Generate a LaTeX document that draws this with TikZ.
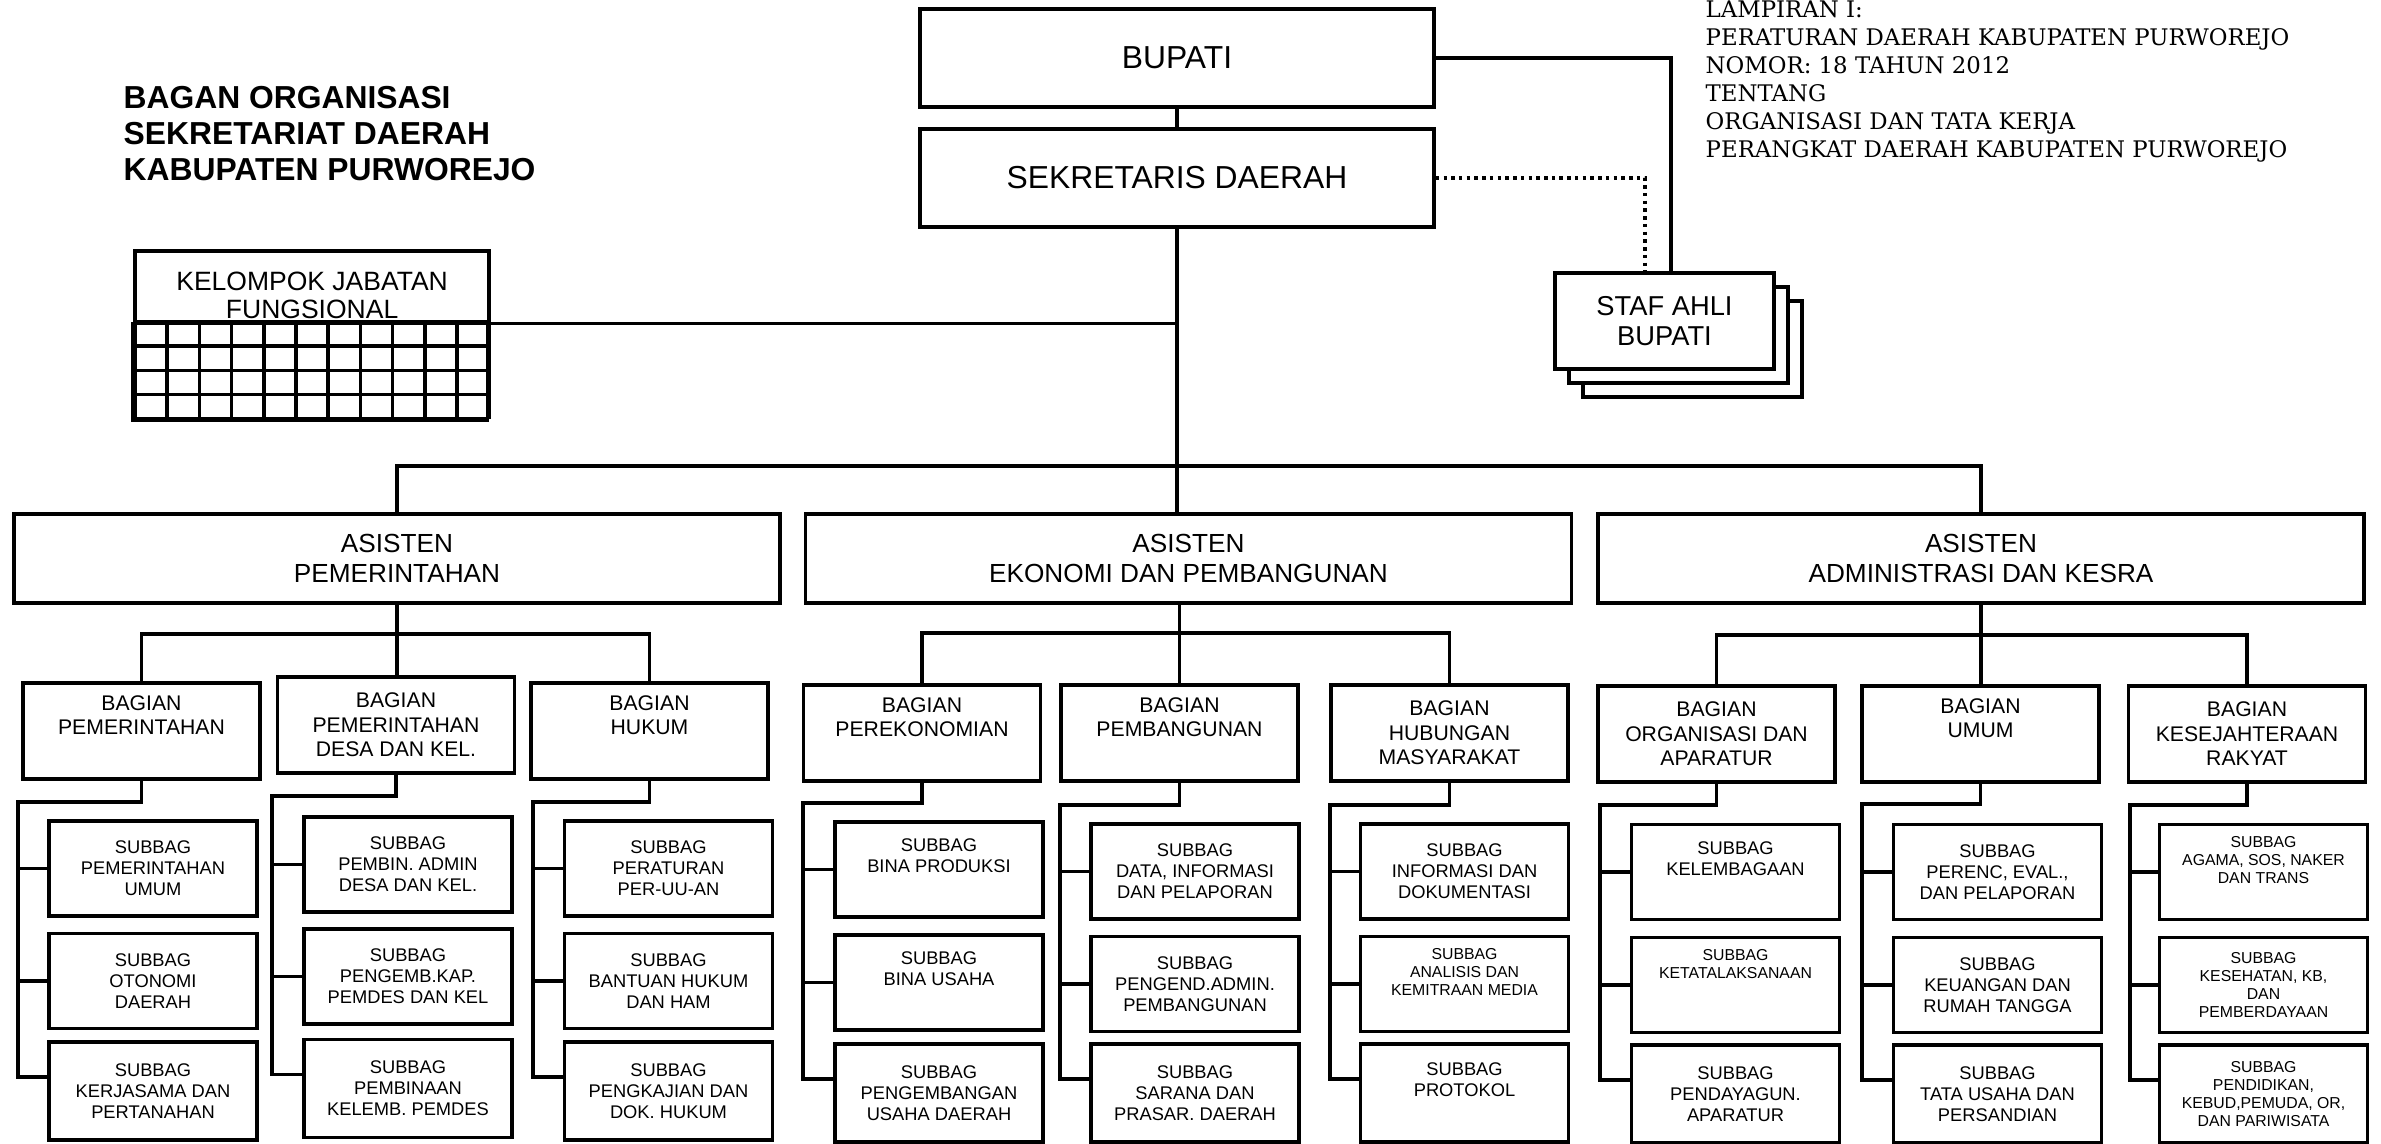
\documentclass[tikz,border=0pt]{standalone}
\usepackage{fontspec}
\setmainfont{Liberation Sans}
\newfontfamily\lampiranfont{DejaVu Serif}

\begin{document}
\begin{tikzpicture}

\tikzstyle{unit} = [rectangle, draw=black, line width=1pt, fill=white, align=center, inner sep=0pt]
\tikzstyle{kepala} = [unit, minimum width=5.14cm, minimum height=0.98cm, font=\fontsize{9.05}{10.2}\selectfont]
\tikzstyle{staf} = [unit, minimum width=2.19cm, minimum height=0.96cm, font=\fontsize{7.77}{8.54}\selectfont]
\tikzstyle{asisten} = [unit, minimum width=7.66cm, minimum height=0.89cm, font=\fontsize{7.45}{8.54}\selectfont]
\tikzstyle{bagian} = [unit, minimum width=2.37cm, minimum height=0.96cm, font=\fontsize{6.03}{6.94}\selectfont]
\tikzstyle{subbag} = [unit, minimum width=2.08cm, minimum height=0.95cm, font=\fontsize{5.21}{6.03}\selectfont]
\tikzstyle{bawah} = [minimum height=0.98cm]
\tikzstyle{kecil} = [font=\fontsize{4.5}{5.18}\selectfont]
\tikzstyle{judul} = [anchor=west, align=left, inner sep=0pt, font=\bfseries\fontsize{9.05}{10.24}\selectfont]
\tikzstyle{lampiran} = [anchor=west, align=left, inner sep=0pt, font=\lampiranfont\fontsize{6.5}{7.97}\selectfont]
\tikzstyle{link} = [line width=1pt]

\useasboundingbox (0,0) rectangle (23.81,11.44);

\node[judul] (judul) at (1.23, 10.10) {BAGAN ORGANISASI\\SEKRETARIAT DAERAH\\KABUPATEN PURWOREJO};
\node[lampiran] (lampiran) at (17.05, 10.62) {LAMPIRAN I:\\PERATURAN DAERAH KABUPATEN PURWOREJO\\NOMOR: 18 TAHUN 2012\\TENTANG\\ORGANISASI DAN TATA KERJA\\PERANGKAT DAERAH KABUPATEN PURWOREJO};

\node[kepala] (bupati) at (11.77, 10.86) {BUPATI};
\node[kepala] (sekda) at (11.77, 9.66) {SEKRETARIS DAERAH};

\node[staf] (staf3) at (16.925, 7.95) {};
\node[staf] (staf2) at (16.785, 8.09) {};
\node[staf] (staf1) at (16.645, 8.23) {STAF AHLI\\BUPATI};

\node[unit, minimum width=3.542cm, minimum height=0.71cm, font=\fontsize{7.54}{7.97}\selectfont] (kjf) at (3.121, 8.575) {\rule{0pt}{0.36cm}KELOMPOK JABATAN\\FUNGSIONAL};
\draw[link, shift={(1.35, 7.25)}, xstep=0.322, ystep=0.2425] (0,0) grid (3.542, 0.97);
\draw[link] (kjf.south west) rectangle ++(3.542, -0.97);

\node[asisten] (a1) at (3.97, 5.855) {ASISTEN\\PEMERINTAHAN};
\node[asisten] (a2) at (11.885, 5.855) {ASISTEN\\EKONOMI DAN PEMBANGUNAN};
\node[asisten] (a3) at (19.81, 5.855) {ASISTEN\\ADMINISTRASI DAN KESRA};

\node[bagian] (b1) at (1.415, 4.13) {BAGIAN\\PEMERINTAHAN\\\strut};
\node[bagian] (b2) at (3.96, 4.19) {BAGIAN\\PEMERINTAHAN\\DESA DAN KEL.};
\node[bagian] (b3) at (6.495, 4.13) {BAGIAN\\HUKUM\\\strut};
\node[bagian] (b4) at (9.22, 4.11) {BAGIAN\\PEREKONOMIAN\\\strut};
\node[bagian] (b5) at (11.795, 4.11) {BAGIAN\\PEMBANGUNAN\\\strut};
\node[bagian] (b6) at (14.495, 4.11) {BAGIAN\\HUBUNGAN\\MASYARAKAT};
\node[bagian] (b7) at (17.165, 4.10) {BAGIAN\\ORGANISASI DAN\\APARATUR};
\node[bagian] (b8) at (19.805, 4.10) {BAGIAN\\UMUM\\\strut};
\node[bagian] (b9) at (22.47, 4.10) {BAGIAN\\KESEJAHTERAAN\\RAKYAT};

\node[subbag] (s11) at (1.53, 2.755) {SUBBAG\\PEMERINTAHAN\\UMUM};
\node[subbag] (s12) at (1.53, 1.63) {SUBBAG\\OTONOMI\\DAERAH};
\node[subbag, bawah] (s13) at (1.53, 0.53) {SUBBAG\\KERJASAMA DAN\\PERTANAHAN};

\node[subbag] (s21) at (4.08, 2.795) {SUBBAG\\PEMBIN. ADMIN\\DESA DAN KEL.};
\node[subbag] (s22) at (4.08, 1.675) {SUBBAG\\PENGEMB.KAP.\\PEMDES DAN KEL};
\node[subbag, bawah] (s23) at (4.08, 0.555) {SUBBAG\\PEMBINAAN\\KELEMB. PEMDES};

\node[subbag] (s31) at (6.685, 2.755) {SUBBAG\\PERATURAN\\PER-UU-AN};
\node[subbag] (s32) at (6.685, 1.63) {SUBBAG\\BANTUAN HUKUM\\DAN HAM};
\node[subbag, bawah] (s33) at (6.685, 0.53) {SUBBAG\\PENGKAJIAN DAN\\DOK. HUKUM};

\node[subbag] (s41) at (9.39, 2.745) {SUBBAG\\BINA PRODUKSI\\\strut};
\node[subbag] (s42) at (9.39, 1.615) {SUBBAG\\BINA USAHA\\\strut};
\node[subbag, bawah] (s43) at (9.39, 0.51) {SUBBAG\\PENGEMBANGAN\\USAHA DAERAH};

\node[subbag] (s51) at (11.95, 2.725) {SUBBAG\\DATA, INFORMASI\\DAN PELAPORAN};
\node[subbag] (s52) at (11.95, 1.60) {SUBBAG\\PENGEND.ADMIN.\\PEMBANGUNAN};
\node[subbag, bawah] (s53) at (11.95, 0.51) {SUBBAG\\SARANA DAN\\PRASAR. DAERAH};

\node[subbag] (s61) at (14.645, 2.725) {SUBBAG\\INFORMASI DAN\\DOKUMENTASI};
\node[subbag, kecil] (s62) at (14.645, 1.60) {SUBBAG\\ANALISIS DAN\\KEMITRAAN MEDIA\\\strut};
\node[subbag, bawah] (s63) at (14.645, 0.51) {SUBBAG\\PROTOKOL\\\strut};

\node[subbag] (s71) at (17.355, 2.72) {SUBBAG\\KELEMBAGAAN\\\strut};
\node[subbag, kecil] (s72) at (17.355, 1.59) {SUBBAG\\KETATALAKSANAAN\\\strut\\\strut};
\node[subbag, bawah] (s73) at (17.355, 0.50) {SUBBAG\\PENDAYAGUN.\\APARATUR};

\node[subbag] (s81) at (19.975, 2.72) {SUBBAG\\PERENC, EVAL.,\\DAN PELAPORAN};
\node[subbag] (s82) at (19.975, 1.59) {SUBBAG\\KEUANGAN DAN\\RUMAH TANGGA};
\node[subbag, bawah] (s83) at (19.975, 0.50) {SUBBAG\\TATA USAHA DAN\\PERSANDIAN};

\node[subbag, kecil] (s91) at (22.635, 2.72) {SUBBAG\\AGAMA, SOS, NAKER\\DAN TRANS\\\strut};
\node[subbag, kecil] (s92) at (22.635, 1.59) {SUBBAG\\KESEHATAN, KB,\\DAN\\PEMBERDAYAAN};
\node[subbag, kecil, bawah] (s93) at (22.635, 0.50) {SUBBAG\\PENDIDIKAN,\\KEBUD,PEMUDA, OR,\\DAN PARIWISATA};

\draw[link] (bupati.south) -- (sekda.north);
\draw[link] (bupati.east) -| ([xshift=0.065cm]staf1.north);
\draw[link, dash pattern=on 1pt off 1.2pt] (sekda.east) -| ([xshift=-0.195cm]staf1.north);
\draw[link] (sekda.south) -- (sekda.south |- a2.north);
\draw[link] (kjf.south east) -- (kjf.south east -| sekda.south);

\coordinate (bus) at (11.77, 6.78);
\draw[link] (a1.north) |- (bus) -| (a3.north);

\coordinate (pa) at (3.97, 5.10);
\coordinate (pb) at (11.80, 5.11);
\coordinate (pc) at (19.81, 5.09);
\draw[link] (a1.south) -- (a1.south |- b2.north);
\draw[link] (b1.north) |- (pa) -| (b3.north);
\draw[link] (a2.south -| b5.north) -- (b5.north);
\draw[link] (b4.north) |- (pb) -| (b6.north);
\draw[link] (a3.south) -- (a3.south |- b8.north);
\draw[link] (b7.north) |- (pc) -| (b9.north);

\coordinate (k1) at (0.18, 3.42);
\coordinate (k2) at (2.72, 3.48);
\coordinate (k3) at (5.33, 3.42);
\coordinate (k4) at (8.03, 3.41);
\coordinate (k5) at (10.60, 3.39);
\coordinate (k6) at (13.30, 3.39);
\coordinate (k7) at (16.00, 3.39);
\coordinate (k8) at (18.62, 3.40);
\coordinate (k9) at (21.30, 3.39);

\draw[link] (b1.south) |- (k1) |- ([yshift=0.14cm]s13.west);
\draw[link] (k1 |- s11.west) -- (s11.west);
\draw[link] (k1 |- s12.west) -- (s12.west);

\draw[link] (b2.south) |- (k2) |- ([yshift=0.14cm]s23.west);
\draw[link] (k2 |- s21.west) -- (s21.west);
\draw[link] (k2 |- s22.west) -- (s22.west);

\draw[link] (b3.south) |- (k3) |- ([yshift=0.14cm]s33.west);
\draw[link] (k3 |- s31.west) -- (s31.west);
\draw[link] (k3 |- s32.west) -- (s32.west);

\draw[link] (b4.south) |- (k4) |- ([yshift=0.14cm]s43.west);
\draw[link] (k4 |- s41.west) -- (s41.west);
\draw[link] (k4 |- s42.west) -- (s42.west);

\draw[link] (b5.south) |- (k5) |- ([yshift=0.14cm]s53.west);
\draw[link] (k5 |- s51.west) -- (s51.west);
\draw[link] (k5 |- s52.west) -- (s52.west);

\draw[link] (b6.south) |- (k6) |- ([yshift=0.14cm]s63.west);
\draw[link] (k6 |- s61.west) -- (s61.west);
\draw[link] (k6 |- s62.west) -- (s62.west);

\draw[link] (b7.south) |- (k7) |- ([yshift=0.14cm]s73.west);
\draw[link] (k7 |- s71.west) -- (s71.west);
\draw[link] (k7 |- s72.west) -- (s72.west);

\draw[link] (b8.south) |- (k8) |- ([yshift=0.14cm]s83.west);
\draw[link] (k8 |- s81.west) -- (s81.west);
\draw[link] (k8 |- s82.west) -- (s82.west);

\draw[link] (b9.south) |- (k9) |- ([yshift=0.14cm]s93.west);
\draw[link] (k9 |- s91.west) -- (s91.west);
\draw[link] (k9 |- s92.west) -- (s92.west);

\end{tikzpicture}
\end{document}
